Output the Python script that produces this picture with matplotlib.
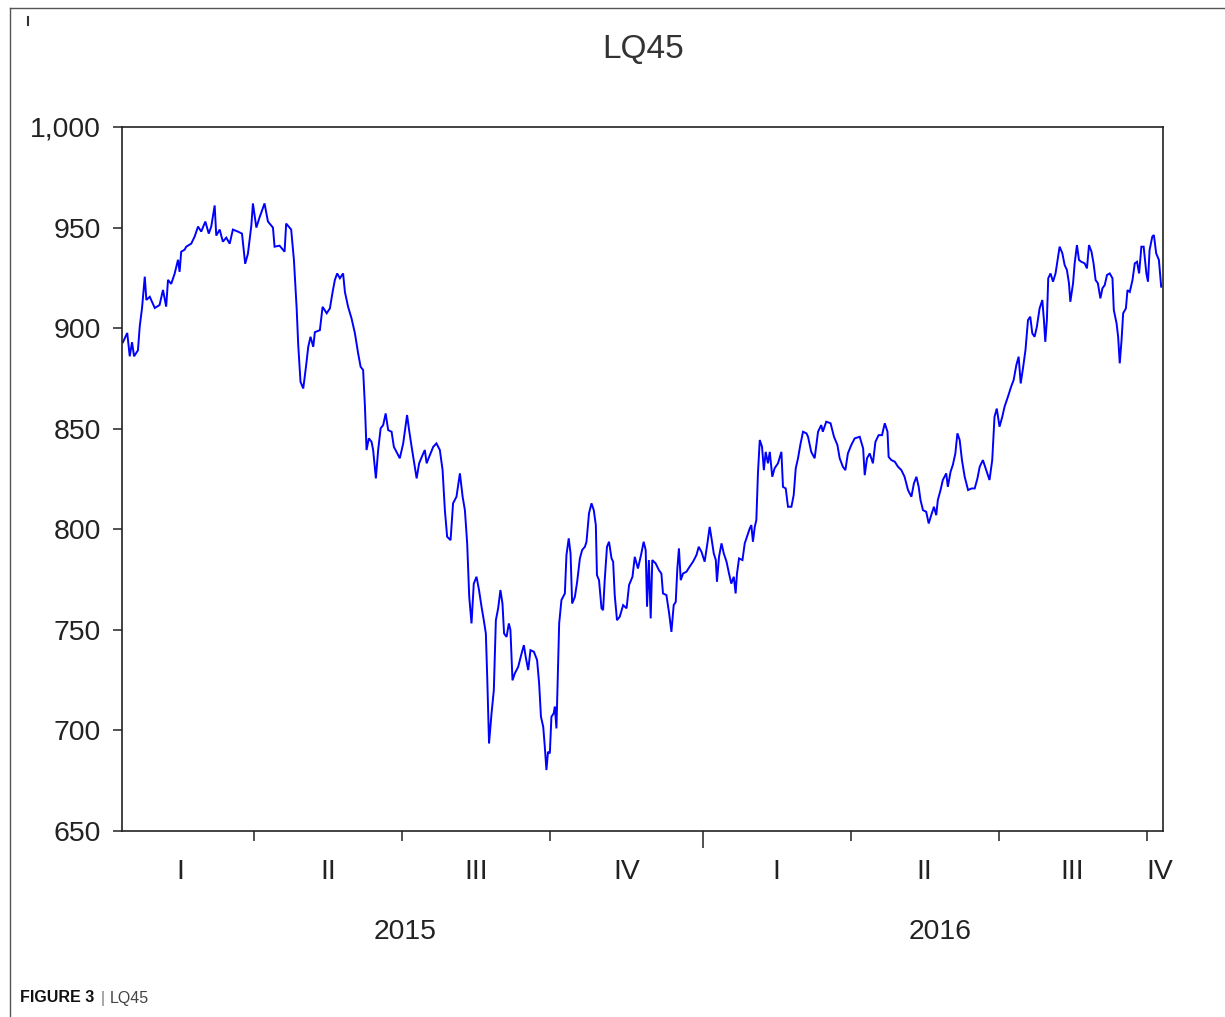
import matplotlib
matplotlib.use("Agg")
import matplotlib.pyplot as plt
from matplotlib.lines import Line2D
import matplotlib.transforms as mtransforms
from matplotlib import font_manager

# ---------------- data (trading-day index, LQ45 value) ----------------
trading_day = [
    0.4, 2.3, 3.4, 4.4, 5.3, 7.0, 7.8, 8.8, 10.0, 10.7,
    12.2, 14.4, 16.5, 18.0, 19.4, 20.2, 21.6, 23.1, 24.6, 25.3,
    26.0, 27.5, 28.2, 30.4, 31.9, 33.4, 34.8, 36.6, 38.1, 39.2,
    40.7, 41.4, 42.9, 44.3, 45.8, 47.3, 48.7, 50.9, 52.7, 54.1,
    55.3, 56.8, 57.5, 59.0, 60.4, 62.6, 64.1, 66.3, 67.0, 69.2,
    71.4, 72.1, 74.3, 75.5,
    76.7, 77.4, 78.4, 79.6, 80.8, 81.8, 82.8, 84.0, 84.7, 86.9,
    88.1, 89.9, 91.3, 92.5, 93.5, 94.5, 95.7, 97.1, 97.9, 99.3,
    100.8, 102.3, 103.7, 104.8, 105.9, 106.7, 107.4, 108.4, 109.6, 110.3,
    111.5, 112.5, 113.6, 114.7, 115.8, 116.9, 118.4, 119.4, 120.9, 122.0,
    123.5, 124.2, 125.2, 126.1, 127.2, 128.6, 129.4, 130.5, 132.0, 133.0,
    133.8, 134.9, 136.7, 138.1, 139.6, 140.8, 141.8, 142.8, 144.3, 145.4,
    146.9, 148.4, 149.6,
    150.6, 151.6, 152.5, 153.5, 154.5, 155.7, 156.8, 157.9, 158.9, 159.8,
    160.4, 161.2, 162.3, 163.3, 164.2, 165.2, 166.2, 167.1, 167.8, 168.9,
    169.9, 170.6, 171.5, 172.5, 174.0, 175.5, 176.5, 177.3, 178.4, 179.4,
    180.9, 182.3, 183.2, 184.0, 185.0, 185.7, 186.4, 187.1, 187.9, 188.6,
    189.6, 190.1, 190.8, 191.3, 192.0, 193.0, 194.5, 195.2, 196.2, 197.0,
    197.7, 198.9, 199.9, 201.1, 202.1, 203.3, 204.0, 205.1, 206.2, 207.2,
    208.1, 208.6, 209.5, 210.6, 211.3, 212.0, 213.0, 213.9, 215.0, 215.7,
    216.4, 217.4, 218.6, 220.1, 221.6, 222.7,
    224.2, 225.2, 226.6, 228.1, 229.1, 230.0, 230.6, 231.4, 232.2, 232.9,
    234.4, 235.8, 236.9, 237.6, 239.1, 240.3, 241.3, 242.3, 243.2, 243.9,
    244.6, 245.4, 246.4, 247.9, 249.3, 250.8, 252.3, 253.3, 254.5, 255.9,
    257.1, 258.1, 258.8, 259.9, 260.8, 261.3, 262.2, 263.3, 264.3, 265.5,
    266.6, 267.6, 268.7, 269.5, 270.1, 271.0, 272.5, 273.5, 274.5, 275.7,
    276.4, 277.1, 277.9, 278.6, 279.3, 280.1, 281.1, 281.9, 282.7, 283.7,
    284.5, 285.6, 286.6, 288.1, 289.6, 290.3, 291.5, 292.5, 294.0, 295.0,
    295.9, 296.9, 297.9, 299.1, 300.6,
    301.3, 302.7, 304.2, 305.7, 307.1, 307.8, 309.3, 311.2, 312.7, 314.2,
    315.2, 316.6, 317.7, 318.8, 320.3, 321.8, 324.0, 325.5, 326.2, 327.2,
    328.4, 329.8, 330.9, 332.3, 333.8, 335.0, 336.2, 336.7, 337.9, 339.4,
    340.8, 342.3, 343.7, 345.2, 346.7, 347.8, 348.9, 349.9, 350.7, 351.8,
    353.2, 354.3, 355.4, 356.6, 357.6, 358.3, 359.5, 360.5, 362.0, 362.7,
    363.9, 364.9, 366.0, 366.9, 367.9, 368.9, 370.1, 371.6, 373.1, 374.5,
    375.7, 376.7, 378.1,
    381.0, 382.2, 383.2, 384.2, 385.4, 386.6, 387.6, 389.1, 390.5, 391.6,
    392.8, 393.8, 394.7, 395.7, 396.8, 397.9, 398.9, 399.8, 400.8, 401.8,
    403.0, 404.2, 404.9, 405.5, 406.2, 406.8, 407.8, 408.9, 410.0, 411.1,
    411.8, 413.0, 414.0, 415.0, 415.9, 416.5, 417.7, 418.4, 419.4, 420.3,
    421.3, 422.8, 423.8, 424.7, 425.8, 426.7, 427.6, 428.6, 429.7, 430.6,
    431.6, 432.6, 433.8, 435.0, 435.6, 436.8, 437.5, 438.2, 439.0, 439.7,
    440.9, 441.6, 442.6, 443.8, 444.8, 445.8, 446.7, 447.7, 448.7, 449.9,
    450.6, 451.3, 452.5, 453.2, 454.2, 455.4, 456.4,
]

lq45 = [
    893, 897.6, 886, 893, 886, 889, 901, 910, 925.6, 914,
    915.6, 910, 911.5, 919, 910.7, 924, 922, 927, 934, 928,
    938, 939, 940.5, 942, 945.5, 950.5, 948, 953, 947, 950.5,
    961, 946, 949, 943, 945, 942, 949, 948, 947, 932,
    937, 951, 962, 950, 955, 962, 953, 950, 940.5, 941,
    938, 952, 949, 934,
    910, 891.6, 873.3, 870, 880.8, 890.7, 895.7, 890.7, 898, 899,
    910.6, 907.4, 909.8, 918, 924, 927.2, 924.8, 927.2, 918, 910.6,
    904.9, 897.4, 887.5, 880.8, 879.2, 861, 839.4, 845.2, 843.5, 839.4,
    825.3, 839.4, 850.2, 851.8, 857.6, 849.3, 848.5, 841, 837.7, 835.3,
    842.7, 848.5, 856.8, 849.3, 841, 831, 825.3, 832.8, 836.9, 839.4,
    832.8, 836, 841, 842.7, 839.4, 829.4, 809.5, 796.3, 794.6, 812.9,
    816.2, 827.8, 816.2,
    809.5, 793, 766.4, 753.2, 773, 776.4, 769.8, 761.5, 754.8, 748.2,
    726.6, 693.5, 708.5, 720, 754.8, 760.7, 769.8, 763.1, 748.2, 746.5,
    753.2, 749.9, 724.9, 728.3, 731.6, 738.3, 742.4, 736.6, 730, 739.9,
    739.1, 735, 723.4, 706.8, 701.8, 691.8, 680.3, 689.4, 688.6, 706.8,
    708.5, 711.8, 701, 723.4, 753.2, 764.8, 768.1, 787.2, 795.5, 788,
    763.1, 766.4, 773.9, 785.5, 789.7, 791.3, 793.8, 807.9, 812.9, 809.5,
    802.1, 777.2, 774.7, 760.7, 759.8, 774.7, 791.3, 793.8, 785.5, 783.9,
    767.3, 754.8, 756.5, 762.3, 760.7, 772.3,
    776.4, 786.3, 780.5, 788, 793.8, 789.7, 761.5, 784.7, 755.7, 784.7,
    783, 779.7, 778, 768.1, 767.3, 758.2, 749, 762.3, 763.9, 780.5,
    790.5, 774.7, 778, 778.9, 781.4, 783.9, 787.2, 791.3, 788.8, 783.9,
    793, 801.2, 796.3, 788, 784.7, 773.9, 786.3, 793, 788, 783.9,
    778, 773, 776.4, 768.1, 778, 785.5, 784.7, 793, 796.3, 800.4,
    802.1, 793.8, 801.2, 804.6, 827.8, 844.4, 841, 829.4, 838.5, 832.8,
    838.5, 826.1, 830.3, 832.8, 838.5, 821.1, 820.3, 811.2, 811.2, 817,
    830.3, 835.3, 841.9, 848.5, 847.7,
    846, 838.5, 835.3, 848.5, 851.8, 848.5, 853.5, 852.7, 846, 841.9,
    835.3, 831.1, 829.4, 837.7, 841.9, 845.2, 846, 840.2, 826.9, 835.3,
    837.7, 832.8, 843.5, 846.8, 846.8, 852.7, 848.5, 836, 834.4, 833.6,
    831.1, 829.4, 826.1, 819.5, 816.2, 822.8, 826.1, 821.1, 814.5, 809.5,
    808.7, 802.9, 807, 811.2, 807, 814.5, 819.5, 824.5, 827.8, 821.1,
    828.6, 832, 837.7, 847.7, 844.4, 834.4, 826.1, 819.5, 820.3, 820.3,
    825.3, 831.1, 834.4,
    824.5, 834.4, 855.9, 860, 851, 855.9, 860.9, 865.9, 870.9, 874.2,
    881.7, 885.8, 872.5, 880, 889.1, 904, 905.7, 897.4, 895.7, 900.7,
    909.8, 914, 904, 893.2, 904, 924.8, 927.2, 923.1, 927.2, 935.5,
    940.5, 937.2, 931.4, 928.9, 922.3, 913.1, 922.3, 932.2, 941.3, 933.9,
    933, 932.2, 929.7, 941.3, 938, 932.2, 923.9, 922.3, 914.8, 919.8,
    921.4, 926.4, 927.2, 924.8, 909, 902.4, 895.7, 882.5, 894.1, 907.4,
    909.8, 918.9, 918, 923.9, 932.2, 933, 927.2, 940.5, 940.5, 927.2,
    923.1, 938.8, 945.5, 946.3, 937.2, 933.9, 920.6,
]

# quarter boundaries in trading-day index (first = start of 2015 Q1, before sample)
quarter_starts = [-6.5, 58, 123, 188, 255, 320, 385, 450]
quarter_labels = ["I", "II", "III", "IV", "I", "II", "III", "IV"]
year_starts = [-6.5, 255]
year_labels = ["2015", "2016"]
last_day = 457.2

y_ticks = [650, 700, 750, 800, 850, 900, 950, 1000]

# ---------------- fonts ----------------
_names = {f.name for f in font_manager.fontManager.ttflist}
if "Liberation Sans Narrow" in _names:
    FONT = "Liberation Sans Narrow"
    LBL = 24.0
    TTL = 28.5
else:
    FONT = "Liberation Sans"
    LBL = 20.4
    TTL = 24.0
plt.rcParams["font.family"] = [FONT, "DejaVu Sans"]

W, H = 1225, 1017
fig = plt.figure(figsize=(W / 100, H / 100), dpi=100)
fig.patch.set_facecolor("white")

ax = fig.add_axes([122 / W, 1 - 831 / H, (1163 - 122) / W, (831 - 127) / H])

n = min(len(trading_day), len(lq45))
ax.plot(trading_day[:n], lq45[:n], color="#0000ff", linewidth=1.4,
        solid_joinstyle="miter")

ax.set_xlim(0, last_day)
ax.set_ylim(650, 1000)

# y axis
ax.set_yticks(y_ticks)
ax.set_yticklabels([f"{v:,}" for v in y_ticks])
ax.tick_params(axis="y", direction="out", length=6.5, width=1.1,
               pad=8.5, labelsize=LBL, colors="#222222")

# x axis: quarter ticks, longer tick at year boundary
inner_q = [q for q in quarter_starts[1:] if q not in year_starts]
ax.set_xticks(inner_q)
ax.set_xticklabels([])
ax.set_xticks([y for y in year_starts if y > 0], minor=True)
ax.tick_params(axis="x", which="major", direction="out", length=7.5, width=1.1,
               colors="#222222")
ax.tick_params(axis="x", which="minor", direction="out", length=12.5, width=1.1,
               colors="#222222")

for s in ax.spines.values():
    s.set_linewidth(1.2)
    s.set_color("#222222")

trans = mtransforms.blended_transform_factory(ax.transData, ax.transAxes)
q_bounds = quarter_starts + [last_day + 4]
for i, lab in enumerate(quarter_labels):
    mid = (q_bounds[i] + q_bounds[i + 1]) / 2
    ax.text(mid, -0.058, lab, transform=trans, ha="center", va="center",
            fontsize=LBL, color="#222222", clip_on=False)

y_bounds = year_starts + [last_day + 6]
for i, lab in enumerate(year_labels):
    mid = (y_bounds[i] + y_bounds[i + 1]) / 2
    ax.text(mid, -0.143, lab, transform=trans, ha="center", va="center",
            fontsize=LBL, color="#222222", clip_on=False)

# title
fig.text(643 / W, 1 - 50 / H, "LQ45", ha="center", va="center",
         fontsize=TTL, color="#333333")

# panel frame
fig.add_artist(Line2D([10 / W, 10 / W], [0, 1 - 8 / H], color="#555555", lw=1.0))
fig.add_artist(Line2D([10 / W, 1], [1 - 8 / H, 1 - 8 / H], color="#555555", lw=1.0))
fig.add_artist(Line2D([28 / W, 28 / W], [1 - 17 / H, 1 - 25 / H], color="#333333", lw=1.5))

# caption
fig.text(20 / W, 1 - 998 / H, "FIGURE 3", ha="left", va="center",
         fontsize=11.5, fontweight="bold", color="#111111",
         family=["Liberation Sans", "DejaVu Sans"])
fig.text(101 / W, 1 - 998 / H, "|", ha="left", va="center",
         fontsize=11.5, color="#777777", family=["Liberation Sans", "DejaVu Sans"])
fig.text(110 / W, 1 - 998 / H, "LQ45", ha="left", va="center",
         fontsize=11.5, color="#444444", family=["Liberation Sans", "DejaVu Sans"])

fig.savefig("out.png", dpi=100, facecolor="white")
